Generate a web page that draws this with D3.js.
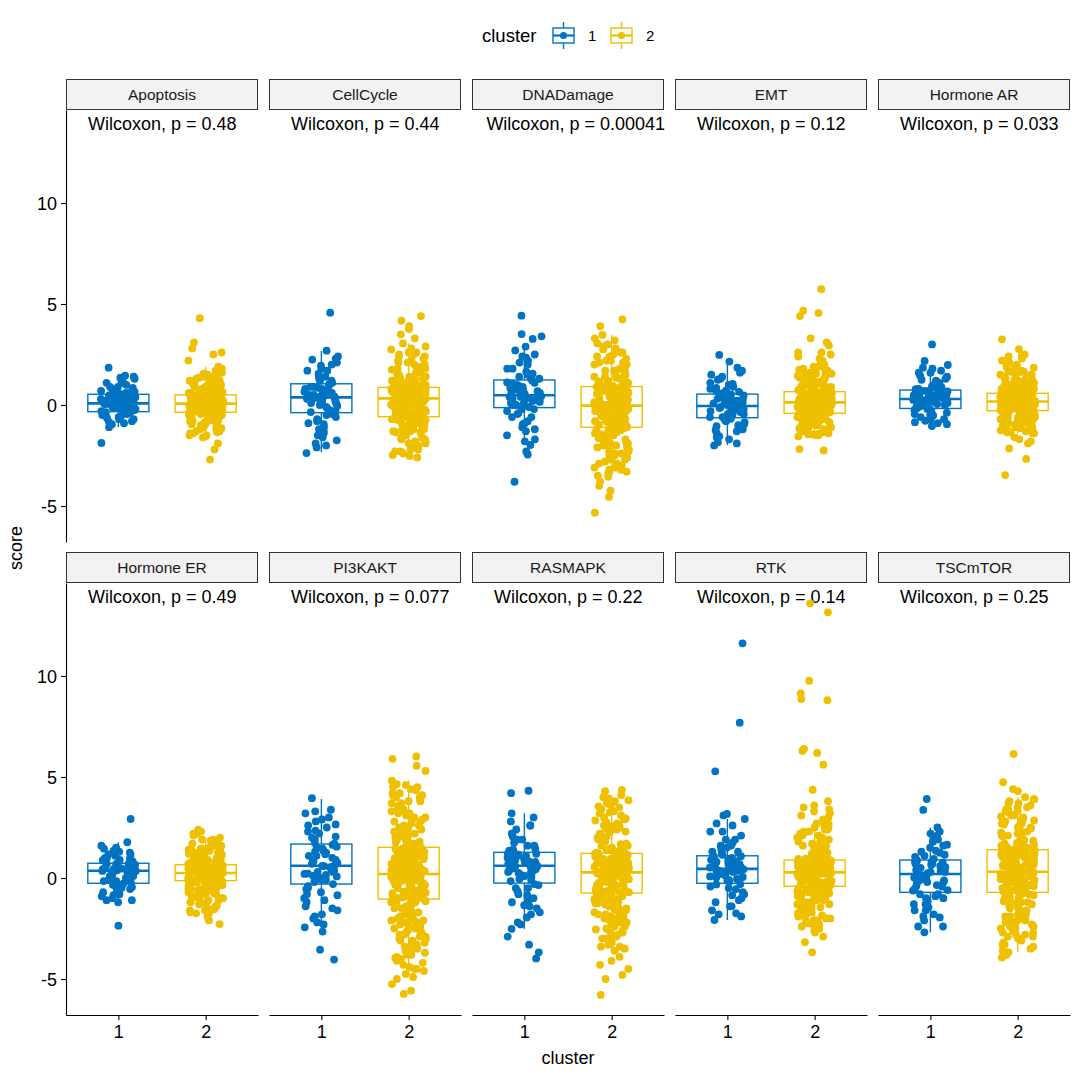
<!DOCTYPE html>
<html><head><meta charset="utf-8">
<script src="https://cdn.jsdelivr.net/npm/d3@7"></script>
<style>body{margin:0;background:#fff}svg{display:block}text{font-family:"Liberation Sans",Arial,sans-serif}</style>
</head><body>
<svg id="c" width="1080" height="1080"></svg>
<script>
const panels = ["Apoptosis","CellCycle","DNADamage","EMT","Hormone AR","Hormone ER","PI3KAKT","RASMAPK","RTK","TSCmTOR"];
const pvalues = ["0.48","0.44","0.00041","0.12","0.033","0.49","0.077","0.22","0.14","0.25"];
const clusters = ["1","2"];
const yTicks = [-5,0,5,10];
// box statistics per panel: [lower whisker, Q1, median, Q3, upper whisker]
const boxStats1 = [
 [-1.1,-0.33,0.08,0.53,1.4],[-2.34,-0.38,0.38,1.05,2.67],[-1.98,-0.13,0.48,1.24,2.89],[-1.98,-0.63,-0.05,0.54,2.15],[-1.04,-0.17,0.3,0.74,1.98],
 [-1.2,-0.26,0.36,0.73,1.77],[-2.44,-0.3,0.61,1.68,3.91],[-2.52,-0.25,0.61,1.27,3.2],[-2.08,-0.26,0.45,1.1,2.92],[-2.69,-0.71,0.2,0.89,2.5]];
const boxStats2 = [
 [-1.6,-0.36,0.07,0.5,1.9],[-2.48,-0.58,0.33,0.87,3.05],[-3.55,-1.1,-0.03,0.91,3.47],[-1.55,-0.41,0.13,0.66,1.95],[-1.4,-0.28,0.17,0.58,1.85],
 [-1.8,-0.13,0.25,0.66,2.0],[-4.75,-1.04,0.2,1.52,4.82],[-3.6,-0.74,0.28,1.22,4.1],[-2.4,-0.41,0.28,0.89,2.8],[-3.68,-0.71,0.31,1.4,4.0]];
// scores, cluster 1
const scores1 = [
 [-1.1,-0.95,-0.85,-0.8,-0.7,-0.65,-0.6,-0.5,-0.45,-0.4,-0.38,-0.35,-0.3,-0.25,-0.2,-0.18,-0.12,-0.1,-0.05,0,0.02,0.05,0.06,0.07,0.1,0.12,0.15,0.2,0.25,0.28,0.3,0.35,0.4,0.45,0.48,0.52,0.55,0.6,0.65,0.7,0.8,0.85,0.9,1.0,1.1,1.2,1.35,1.4,1.85,-1.88],
 [-2.38,-2.1,-1.9,-1.75,-1.6,-1.4,-1.3,-1.1,-0.95,-0.8,-0.6,-0.45,-0.35,-0.25,-0.15,-0.05,0.0,0.08,0.15,0.2,0.25,0.3,0.33,0.36,0.4,0.45,0.5,0.55,0.6,0.65,0.72,0.8,0.85,0.9,0.98,1.03,1.1,1.2,1.3,1.45,1.55,1.7,1.8,1.95,2.1,2.25,2.4,2.69,4.57],
 [-1.98,-1.7,-1.5,-1.3,-1.1,-0.95,-0.8,-0.6,-0.45,-0.3,-0.2,-0.1,0.0,0.08,0.15,0.2,0.26,0.3,0.35,0.4,0.43,0.46,0.5,0.55,0.6,0.68,0.75,0.8,0.88,0.95,1.05,1.12,1.2,1.3,1.4,1.55,1.65,1.8,2.0,2.2,2.35,2.5,2.7,2.89,4.42,3.51,3.27,3.4,-3.8,-2.3,-2.45],
 [-2.0,-1.85,-1.7,-1.55,-1.4,-1.3,-1.2,-1.05,-0.95,-0.85,-0.75,-0.68,-0.6,-0.55,-0.5,-0.45,-0.4,-0.35,-0.3,-0.25,-0.2,-0.15,-0.1,-0.07,-0.02,0.03,0.08,0.12,0.17,0.22,0.27,0.32,0.37,0.42,0.47,0.52,0.58,0.65,0.72,0.8,0.9,1.0,1.1,1.25,1.4,1.6,1.85,2.15,2.48],
 [-1.04,-0.95,-0.85,-0.78,-0.7,-0.6,-0.52,-0.45,-0.38,-0.3,-0.25,-0.2,-0.15,-0.1,-0.05,0,0.05,0.1,0.14,0.18,0.22,0.25,0.27,0.29,0.32,0.36,0.4,0.44,0.48,0.52,0.56,0.6,0.64,0.67,0.7,0.73,0.78,0.85,0.92,1.0,1.1,1.2,1.3,1.45,1.6,1.7,1.85,1.98,3.0,2.18],
 [-1.2,-1.1,-1.0,-0.9,-0.8,-0.7,-0.62,-0.55,-0.48,-0.4,-0.34,-0.28,-0.22,-0.15,-0.08,-0.02,0.05,0.1,0.15,0.2,0.25,0.29,0.32,0.35,0.38,0.41,0.44,0.47,0.5,0.53,0.56,0.59,0.62,0.65,0.68,0.71,0.76,0.82,0.88,0.95,1.02,1.1,1.18,1.26,1.35,1.45,1.6,1.77,2.92,-2.36],
 [-2.44,-2.2,-2.0,-1.8,-1.6,-1.4,-1.2,-1.0,-0.85,-0.7,-0.55,-0.4,-0.2,-0.1,0.0,0.08,0.15,0.22,0.3,0.37,0.43,0.5,0.55,0.59,0.66,0.75,0.82,0.9,1.0,1.1,1.18,1.26,1.35,1.45,1.55,1.64,1.75,1.9,2.05,2.2,2.35,2.5,2.65,2.8,3.0,3.2,3.38,3.95,-4.04,-3.55,-2.65],
 [-2.52,-2.2,-1.95,-1.7,-1.5,-1.35,-1.2,-1.0,-0.85,-0.65,-0.5,-0.35,-0.15,-0.05,0.05,0.15,0.22,0.3,0.37,0.43,0.48,0.53,0.57,0.6,0.65,0.7,0.76,0.82,0.88,0.94,1.0,1.05,1.1,1.15,1.2,1.25,1.35,1.45,1.6,1.75,1.9,2.05,2.2,2.4,2.6,2.8,3.0,3.2,4.32,4.2,-3.98,-3.68,-3.3,-2.9],
 [-2.08,-1.9,-1.75,-1.6,-1.4,-1.2,-1.0,-0.85,-0.7,-0.55,-0.42,-0.32,-0.2,-0.12,-0.05,0.02,0.08,0.14,0.2,0.26,0.31,0.36,0.4,0.43,0.48,0.52,0.57,0.62,0.67,0.72,0.78,0.84,0.9,0.96,1.02,1.08,1.15,1.22,1.3,1.4,1.5,1.6,1.75,1.9,2.1,2.3,2.6,2.92,11.62,7.69,5.28,3.17,3.1],
 [-2.69,-2.4,-2.1,-1.95,-1.8,-1.6,-1.45,-1.3,-1.15,-1.0,-0.9,-0.8,-0.62,-0.52,-0.43,-0.35,-0.27,-0.2,-0.12,-0.05,0.02,0.08,0.13,0.18,0.24,0.3,0.36,0.42,0.48,0.54,0.6,0.65,0.7,0.76,0.81,0.86,0.95,1.05,1.15,1.25,1.35,1.5,1.65,1.8,1.95,2.1,2.3,2.5,3.91,3.37]];
// further scores, cluster 1
const extraScores1 = [
 [-0.9,-0.7,-0.55,-0.45,-0.3,-0.2,-0.1,-0.05,0,0.05,0.1,0.15,0.2,0.25,0.3,0.35,0.4,0.5,0.6,0.7,0.9,1.1,1.3,1.45,-0.15],
 [-2.0,-1.5,-1.2,-0.9,-0.7,-0.5,-0.3,-0.1,0.1,0.2,0.3,0.4,0.45,0.5,0.6,0.7,0.8,0.9,1.0,1.2,1.4,1.7,2.0,2.3,0.35],
 [-1.8,-1.2,-0.9,-0.6,-0.4,-0.2,0,0.1,0.2,0.3,0.4,0.5,0.55,0.6,0.7,0.8,0.9,1.0,1.1,1.3,1.5,1.8,2.1,2.4,0.35],
 [-1.9,-1.6,-1.25,-1.0,-0.8,-0.6,-0.45,-0.3,-0.2,-0.1,0,0.05,0.1,0.2,0.3,0.4,0.5,0.6,0.7,0.85,1.05,1.3,1.5,1.7,-0.15],
 [-0.9,-0.7,-0.5,-0.35,-0.2,-0.1,0,0.1,0.2,0.25,0.3,0.35,0.4,0.45,0.5,0.6,0.7,0.8,0.9,1.05,1.25,1.4,1.6,1.8,0.15],
 [-1.1,-0.85,-0.6,-0.45,-0.3,-0.15,0,0.1,0.2,0.3,0.35,0.4,0.45,0.5,0.55,0.6,0.7,0.8,0.9,1.0,1.15,1.3,1.5,-0.05,0.25],
 [-2.3,-1.9,-1.5,-1.1,-0.8,-0.5,-0.3,-0.1,0.1,0.3,0.5,0.6,0.7,0.9,1.1,1.3,1.5,1.7,2.0,2.3,2.6,2.9,3.3,0.4,0.2],
 [-2.3,-1.8,-1.4,-1.1,-0.8,-0.5,-0.3,-0.1,0.1,0.3,0.45,0.6,0.7,0.8,0.9,1.0,1.1,1.2,1.4,1.6,1.9,2.2,2.6,0.5,0.25],
 [-1.8,-1.4,-1.1,-0.8,-0.5,-0.3,-0.1,0.05,0.2,0.3,0.4,0.5,0.55,0.6,0.7,0.8,0.9,1.0,1.1,1.3,1.6,1.9,2.3,2.7,0.35],
 [-2.4,-1.9,-1.6,-1.3,-1.0,-0.8,-0.6,-0.4,-0.2,0,0.1,0.2,0.3,0.4,0.5,0.6,0.7,0.8,0.9,1.1,1.3,1.6,1.9,2.2,-0.1]];
// scores, cluster 2
const scores2 = [
 [-1.6,-1.55,-1.5,-1.4,-1.35,-1.3,-1.2,-1.15,-1.1,-1.0,-0.95,-0.9,-0.85,-0.8,-0.75,-0.7,-0.65,-0.6,-0.55,-0.5,-0.48,-0.45,-0.42,-0.4,-0.38,
  -0.35,-0.33,-0.3,-0.28,-0.26,-0.24,-0.22,-0.2,-0.18,-0.16,-0.14,-0.12,-0.1,-0.08,-0.06,-0.04,-0.02,0,0.01,0.02,0.03,0.04,0.05,0.06,0.07,
  0.08,0.1,0.12,0.14,0.16,0.18,0.2,0.22,0.24,0.26,0.28,0.3,0.32,0.34,0.36,0.38,0.4,0.41,0.42,0.44,0.45,0.46,0.47,0.48,0.5,
  0.52,0.55,0.6,0.65,0.7,0.75,0.8,0.85,0.9,0.95,1.0,1.05,1.1,1.15,1.2,1.25,1.3,1.35,1.4,1.5,1.55,1.6,1.7,1.8,1.9,
  4.3,3.1,2.8,2.6,2.5,2.2,-2.2,-2.7,-1.9],
 [-2.48,-2.3,-2.2,-2.1,-2.0,-1.9,-1.8,-1.7,-1.6,-1.5,-1.45,-1.35,-1.3,-1.2,-1.15,-1.1,-1.0,-0.95,-0.9,-0.85,-0.8,-0.75,-0.7,-0.65,-0.6,
  -0.56,-0.52,-0.48,-0.44,-0.4,-0.36,-0.32,-0.28,-0.24,-0.2,-0.16,-0.12,-0.08,-0.04,0,0.04,0.08,0.12,0.16,0.2,0.23,0.26,0.28,0.3,0.32,
  0.34,0.36,0.38,0.4,0.42,0.44,0.46,0.48,0.5,0.52,0.54,0.56,0.58,0.6,0.62,0.64,0.66,0.68,0.7,0.72,0.75,0.78,0.8,0.83,0.86,
  0.9,0.95,1.0,1.05,1.1,1.15,1.2,1.3,1.35,1.4,1.5,1.6,1.7,1.8,1.9,2.0,2.1,2.2,2.3,2.4,2.5,2.6,2.75,2.9,3.05,
  4.4,4.17,3.9,3.76,3.5,3.3,-2.52,-2.6],
 [-3.55,-3.4,-3.3,-3.2,-3.1,-3.0,-2.9,-2.8,-2.7,-2.6,-2.5,-2.4,-2.3,-2.2,-2.1,-2.0,-1.9,-1.8,-1.7,-1.6,-1.5,-1.45,-1.35,-1.3,-1.2,-1.15,
  -1.08,-1.04,-1.0,-0.96,-0.92,-0.88,-0.84,-0.8,-0.75,-0.7,-0.65,-0.6,-0.55,-0.5,-0.45,-0.4,-0.35,-0.3,-0.26,-0.22,-0.18,-0.14,-0.1,-0.08,-0.06,-0.04,
  -0.02,0.02,0.06,0.1,0.14,0.18,0.22,0.26,0.3,0.34,0.38,0.42,0.46,0.5,0.54,0.58,0.62,0.66,0.7,0.74,0.77,0.8,0.83,0.86,0.88,0.9,
  0.93,0.97,1.0,1.05,1.1,1.15,1.2,1.3,1.4,1.5,1.6,1.7,1.8,1.9,2.0,2.1,2.2,2.3,2.4,2.5,2.6,2.75,2.9,3.05,3.2,3.47,
  4.24,3.9,-4.24,-4.55,-5.33,-3.8,-4.0],
 [-1.55,-1.5,-1.45,-1.4,-1.35,-1.3,-1.25,-1.2,-1.15,-1.1,-1.05,-1.0,-0.95,-0.9,-0.85,-0.8,-0.75,-0.7,-0.65,-0.6,-0.55,-0.5,-0.47,-0.44,
  -0.4,-0.38,-0.35,-0.32,-0.3,-0.27,-0.24,-0.21,-0.18,-0.15,-0.12,-0.1,-0.08,-0.05,-0.03,0,0.02,0.04,0.06,0.08,0.09,0.1,0.11,0.12,
  0.14,0.16,0.18,0.2,0.22,0.24,0.26,0.28,0.3,0.32,0.34,0.36,0.38,0.4,0.42,0.44,0.46,0.48,0.5,0.53,0.56,0.59,0.62,0.65,
  0.68,0.72,0.76,0.8,0.85,0.9,0.95,1.0,1.05,1.1,1.15,1.2,1.25,1.3,1.35,1.4,1.45,1.5,1.55,1.6,1.7,1.8,1.9,1.95,
  5.73,4.67,4.55,4.4,3.3,3.1,2.95,2.6,2.5,2.4,2.2,-2.18,-2.25],
 [-1.4,-1.35,-1.3,-1.25,-1.2,-1.15,-1.1,-1.05,-1.0,-0.95,-0.9,-0.85,-0.8,-0.75,-0.7,-0.65,-0.6,-0.55,-0.5,-0.46,-0.42,-0.38,-0.34,-0.3,
  -0.27,-0.25,-0.23,-0.21,-0.19,-0.17,-0.15,-0.13,-0.11,-0.09,-0.07,-0.05,-0.03,-0.01,0.01,0.03,0.05,0.07,0.09,0.11,0.12,0.13,0.15,0.16,
  0.18,0.19,0.21,0.23,0.25,0.27,0.29,0.31,0.33,0.35,0.37,0.39,0.41,0.43,0.45,0.47,0.49,0.5,0.51,0.52,0.53,0.54,0.56,0.57,
  0.6,0.64,0.68,0.72,0.76,0.8,0.85,0.9,0.95,1.0,1.05,1.1,1.15,1.2,1.25,1.3,1.35,1.4,1.45,1.5,1.6,1.65,1.75,1.85,
  3.25,2.77,2.45,2.4,2.3,2.1,2.0,-2.15,-2.67,-3.47,-1.6,-1.7],
 [-1.8,-1.7,-1.6,-1.5,-1.4,-1.3,-1.2,-1.1,-1.0,-0.9,-0.85,-0.8,-0.7,-0.65,-0.6,-0.55,-0.5,-0.45,-0.4,-0.35,-0.3,-0.26,-0.22,-0.18,-0.15,
  -0.12,-0.1,-0.08,-0.06,-0.04,-0.02,0,0.02,0.04,0.06,0.08,0.1,0.11,0.12,0.13,0.14,0.15,0.16,0.17,0.18,0.19,0.2,0.21,0.22,0.24,
  0.26,0.28,0.3,0.31,0.33,0.35,0.37,0.38,0.4,0.42,0.43,0.45,0.47,0.48,0.5,0.52,0.53,0.55,0.57,0.58,0.6,0.61,0.62,0.64,0.65,
  0.68,0.72,0.75,0.8,0.84,0.88,0.92,0.96,1.0,1.05,1.1,1.15,1.2,1.25,1.3,1.35,1.4,1.45,1.5,1.55,1.6,1.7,1.8,1.9,2.0,
  2.39,2.3,2.2,-1.91,-2.28,-2.1],
 [-4.75,-4.5,-4.3,-4.1,-3.95,-3.8,-3.7,-3.6,-3.5,-3.4,-3.3,-3.2,-3.1,-3.0,-2.9,-2.8,-2.7,-2.6,-2.5,-2.4,-2.3,-2.2,-2.1,-2.0,-1.9,-1.8,-1.7,-1.6,-1.5,-1.4,-1.3,-1.2,-1.1,
  -1.0,-0.96,-0.92,-0.88,-0.84,-0.8,-0.76,-0.72,-0.68,-0.64,-0.6,-0.56,-0.52,-0.48,-0.44,-0.4,-0.36,-0.32,-0.28,-0.24,-0.2,-0.16,-0.12,-0.08,-0.04,0,0.03,0.06,0.09,0.12,0.14,0.16,0.18,
  0.22,0.26,0.3,0.34,0.38,0.42,0.46,0.5,0.54,0.58,0.62,0.66,0.7,0.74,0.78,0.82,0.86,0.9,0.94,0.98,1.02,1.06,1.1,1.14,1.18,1.22,1.26,1.3,1.34,1.38,1.42,1.46,1.5,
  1.56,1.62,1.7,1.78,1.86,1.94,2.02,2.1,2.2,2.3,2.4,2.5,2.6,2.7,2.8,2.9,3.0,3.1,3.2,3.3,3.4,3.5,3.6,3.7,3.8,3.9,4.0,4.1,4.2,4.35,4.5,4.65,4.82,
  6.02,5.9,5.56,5.3,-5.58,-5.74,-5.25,-5.0,-4.9],
 [-3.6,-3.4,-3.2,-3.0,-2.85,-2.7,-2.55,-2.4,-2.3,-2.2,-2.1,-2.0,-1.9,-1.8,-1.7,-1.6,-1.5,-1.45,-1.4,-1.3,-1.25,-1.2,-1.1,-1.05,-1.0,-0.9,-0.85,-0.8,
  -0.7,-0.66,-0.62,-0.58,-0.54,-0.5,-0.46,-0.42,-0.38,-0.34,-0.3,-0.26,-0.22,-0.18,-0.14,-0.1,-0.06,-0.02,0.02,0.06,0.1,0.13,0.16,0.19,0.21,0.23,0.25,0.27,
  0.3,0.33,0.36,0.39,0.42,0.45,0.48,0.51,0.54,0.57,0.6,0.64,0.68,0.72,0.76,0.8,0.84,0.88,0.92,0.96,1.0,1.03,1.06,1.09,1.12,1.15,1.18,1.2,
  1.26,1.32,1.38,1.45,1.52,1.6,1.68,1.76,1.85,1.95,2.05,2.15,2.25,2.35,2.45,2.55,2.65,2.75,2.85,2.95,3.1,3.25,3.4,3.55,3.7,3.85,3.95,4.1,
  4.36,4.3,-5.79,-5.0,-4.3,-3.9,-4.1],
 [-2.4,-2.3,-2.2,-2.1,-2.0,-1.9,-1.8,-1.7,-1.6,-1.5,-1.4,-1.3,-1.2,-1.1,-1.0,-0.95,-0.9,-0.85,-0.8,-0.75,-0.7,-0.65,-0.6,-0.52,-0.46,
  -0.38,-0.35,-0.32,-0.29,-0.26,-0.23,-0.2,-0.17,-0.14,-0.11,-0.08,-0.05,-0.02,0.01,0.04,0.07,0.1,0.12,0.14,0.16,0.18,0.2,0.22,0.24,0.26,
  0.3,0.32,0.34,0.36,0.38,0.4,0.42,0.44,0.46,0.48,0.5,0.53,0.56,0.59,0.62,0.65,0.68,0.7,0.72,0.74,0.76,0.79,0.82,0.85,0.88,
  0.92,0.96,1.0,1.05,1.1,1.15,1.2,1.25,1.3,1.35,1.4,1.45,1.5,1.6,1.7,1.8,1.9,2.0,2.1,2.2,2.3,2.4,2.5,2.65,2.8,
  13.6,13.15,9.77,9.14,8.86,8.8,6.39,6.3,6.19,5.61,4.37,3.5,3.4,3.3,3.2,-2.52,-2.6,-3.18,-3.68],
 [-3.68,-3.5,-3.3,-3.1,-3.0,-2.9,-2.8,-2.7,-2.6,-2.5,-2.4,-2.3,-2.2,-2.1,-2.0,-1.9,-1.8,-1.7,-1.6,-1.5,-1.4,-1.3,-1.2,-1.15,-1.1,-1.0,-0.95,-0.9,-0.85,-0.8,
  -0.68,-0.64,-0.6,-0.56,-0.52,-0.48,-0.44,-0.4,-0.36,-0.32,-0.28,-0.24,-0.2,-0.16,-0.12,-0.08,-0.04,0,0.03,0.06,0.09,0.12,0.15,0.18,0.2,0.22,0.24,0.26,0.28,0.3,
  0.34,0.38,0.42,0.46,0.5,0.54,0.58,0.62,0.66,0.7,0.74,0.78,0.82,0.86,0.9,0.94,0.98,1.02,1.06,1.1,1.14,1.18,1.22,1.25,1.28,1.31,1.34,1.36,1.38,1.39,
  1.45,1.5,1.56,1.62,1.68,1.74,1.8,1.88,1.96,2.04,2.12,2.2,2.3,2.4,2.5,2.6,2.7,2.8,2.9,3.0,3.1,3.2,3.3,3.4,3.5,3.6,3.7,3.8,3.9,4.0,
  6.14,4.74,4.4,4.3,-3.93,-3.8]];
// further scores, cluster 2
const extraScores2 = [
 [-1.5,-1.3,-1.2,-1.1,-1.0,-0.9,-0.9,-0.8,-0.8,-0.7,-0.7,-0.6,-0.6,-0.6,-0.5,-0.5,-0.5,-0.4,-0.4,-0.4,-0.4,-0.3,-0.3,-0.3,-0.3,-0.3,-0.2,-0.2,-0.2,-0.2,-0.2,-0.1,-0.1,-0.1,-0.1,-0.1,0,0,0,0,0,0,0.1,0.1,0.1,0.1,0.1,0.1,0.2,0.2,0.2,0.2,0.2,0.3,0.3,0.3,0.3,0.3,0.4,0.4,0.4,0.4,0.5,0.5,0.5,0.5,0.6,0.6,0.6,0.7,0.7,0.7,0.8,0.8,0.9,0.9,1.0,1.0,1.1,1.2,1.3,1.4,1.5,1.6,1.7,-1.4,-1.2,-0.95,-0.75,-0.55,-0.45,-0.35,-0.25,-0.15,0.05,0.15,0.25,0.35,0.45,0.55],
 [-2.4,-2.2,-2.0,-1.8,-1.7,-1.6,-1.5,-1.4,-1.3,-1.2,-1.1,-1.0,-1.0,-0.9,-0.9,-0.8,-0.8,-0.7,-0.7,-0.6,-0.6,-0.5,-0.5,-0.4,-0.4,-0.3,-0.3,-0.2,-0.2,-0.1,-0.1,0,0,0.1,0.1,0.2,0.2,0.2,0.3,0.3,0.3,0.4,0.4,0.4,0.5,0.5,0.5,0.6,0.6,0.6,0.7,0.7,0.7,0.8,0.8,0.9,0.9,1.0,1.0,1.1,1.1,1.2,1.3,1.4,1.5,1.6,1.7,1.8,1.9,2.0,2.2,2.4,2.6,2.8,-2.3,-1.9,-1.65,-1.35,-1.15,-0.95,-0.75,-0.55,-0.35,-0.15,0.05,0.15,0.25,0.35,0.45,0.55,0.65,0.75,0.85,1.25,1.45,1.75,2.1,2.5],
 [-3.5,-3.3,-3.1,-2.9,-2.7,-2.5,-2.3,-2.2,-2.0,-1.9,-1.8,-1.7,-1.6,-1.5,-1.4,-1.3,-1.3,-1.2,-1.2,-1.1,-1.1,-1.0,-1.0,-0.9,-0.9,-0.8,-0.8,-0.7,-0.7,-0.6,-0.6,-0.5,-0.5,-0.4,-0.4,-0.3,-0.3,-0.2,-0.2,-0.1,-0.1,0,0,0.1,0.1,0.2,0.2,0.3,0.3,0.4,0.4,0.5,0.5,0.6,0.6,0.7,0.7,0.8,0.8,0.9,0.9,1.0,1.1,1.2,1.3,1.4,1.5,1.6,1.8,2.0,2.2,2.4,2.6,2.8,3.0,3.3,-3.2,-2.8,-2.4,-2.1,-1.85,-1.65,-1.45,-1.25,-1.05,-0.85,-0.65,-0.45,-0.25,-0.05,0.15,0.35,0.55,0.75,0.95,1.15,1.35,1.7,2.1],
 [-1.5,-1.4,-1.3,-1.2,-1.1,-1.0,-1.0,-0.9,-0.9,-0.8,-0.8,-0.7,-0.7,-0.6,-0.6,-0.5,-0.5,-0.5,-0.4,-0.4,-0.4,-0.3,-0.3,-0.3,-0.2,-0.2,-0.2,-0.2,-0.1,-0.1,-0.1,-0.1,0,0,0,0,0.1,0.1,0.1,0.1,0.2,0.2,0.2,0.2,0.3,0.3,0.3,0.3,0.4,0.4,0.4,0.5,0.5,0.5,0.6,0.6,0.6,0.7,0.7,0.8,0.8,0.9,0.9,1.0,1.0,1.1,1.2,1.3,1.4,1.5,1.6,1.7,1.8,1.9,2.0,2.1,-1.45,-1.25,-1.05,-0.85,-0.65,-0.45,-0.25,-0.05,0.05,0.15,0.25,0.35,0.45,0.55,0.75,0.95,1.15,1.35,1.55,1.75,2.3,2.6],
 [-1.4,-1.3,-1.2,-1.1,-1.0,-1.0,-0.9,-0.9,-0.8,-0.8,-0.7,-0.7,-0.6,-0.6,-0.5,-0.5,-0.4,-0.4,-0.4,-0.3,-0.3,-0.3,-0.2,-0.2,-0.2,-0.2,-0.1,-0.1,-0.1,-0.1,0,0,0,0,0.1,0.1,0.1,0.1,0.2,0.2,0.2,0.2,0.3,0.3,0.3,0.3,0.4,0.4,0.4,0.5,0.5,0.5,0.6,0.6,0.7,0.7,0.8,0.8,0.9,0.9,1.0,1.1,1.2,1.3,1.4,1.5,1.6,1.7,1.8,1.9,-1.35,-1.15,-0.95,-0.75,-0.55,-0.35,-0.15,-0.05,0.05,0.15,0.25,0.35,0.45,0.55,0.65,0.85,1.05,1.25,1.45,1.65,2.2,2.5,-1.8,-1.9],
 [-1.7,-1.6,-1.5,-1.4,-1.3,-1.2,-1.1,-1.0,-0.9,-0.8,-0.7,-0.6,-0.5,-0.5,-0.4,-0.4,-0.3,-0.3,-0.2,-0.2,-0.1,-0.1,-0.1,0,0,0,0,0.1,0.1,0.1,0.1,0.2,0.2,0.2,0.2,0.3,0.3,0.3,0.3,0.4,0.4,0.4,0.4,0.5,0.5,0.5,0.6,0.6,0.6,0.7,0.7,0.8,0.8,0.9,0.9,1.0,1.0,1.1,1.2,1.3,1.4,1.5,1.6,1.7,1.8,1.9,2.1,2.2,-1.75,-1.55,-1.35,-1.15,-0.95,-0.75,-0.55,-0.35,-0.25,-0.15,-0.05,0.05,0.15,0.25,0.35,0.45,0.55,0.65,0.75,0.85,1.05,1.25,1.45,1.65,1.85],
 [-4.6,-4.4,-4.2,-4.0,-3.8,-3.6,-3.4,-3.2,-3.0,-2.8,-2.6,-2.4,-2.2,-2.0,-1.8,-1.6,-1.4,-1.3,-1.2,-1.1,-1.0,-0.9,-0.8,-0.7,-0.6,-0.5,-0.4,-0.3,-0.2,-0.1,0,0.1,0.2,0.3,0.4,0.5,0.6,0.7,0.8,0.9,1.0,1.1,1.2,1.3,1.4,1.5,1.6,1.8,2.0,2.2,2.4,2.6,2.8,3.0,3.2,3.4,3.6,3.8,4.0,4.2,4.4,4.6,-4.5,-3.9,-3.5,-3.1,-2.7,-2.3,-1.9,-1.5,-1.15,-0.95,-0.75,-0.55,-0.35,-0.15,0.05,0.25,0.45,0.65,0.85,1.05,1.25,1.45,1.7,1.9,2.1,2.5,2.9,3.3,3.7,4.1,4.5,-2.9,-2.5,-2.1,-1.7,-0.25,0.35,0.75,1.15,-0.65],
 [-3.5,-3.3,-3.1,-2.9,-2.7,-2.5,-2.3,-2.1,-1.9,-1.7,-1.5,-1.4,-1.3,-1.2,-1.1,-1.0,-0.9,-0.8,-0.7,-0.6,-0.5,-0.4,-0.3,-0.2,-0.1,0,0.1,0.2,0.3,0.4,0.5,0.6,0.7,0.8,0.9,1.0,1.1,1.2,1.3,1.4,1.5,1.7,1.9,2.1,2.3,2.5,2.7,2.9,3.2,3.5,3.8,4.0,-3.4,-2.8,-2.4,-2.0,-1.6,-1.25,-1.05,-0.85,-0.65,-0.45,-0.25,-0.05,0.15,0.25,0.35,0.45,0.55,0.65,0.75,0.85,0.95,1.05,1.15,1.35,1.6,1.8,2.0,2.2,2.4,2.6,3.0,3.3,-0.95,-0.55,-0.15,0.05,0.4,0.7,1.0,-1.8,-2.2,-2.6,-3.0,3.6,-4.5,-4.8],
 [-2.35,-2.25,-2.1,-1.95,-1.85,-1.75,-1.65,-1.5,-1.4,-1.3,-1.2,-1.1,-1.0,-0.9,-0.8,-0.7,-0.6,-0.5,-0.5,-0.4,-0.4,-0.3,-0.3,-0.2,-0.2,-0.1,-0.1,0,0,0.1,0.1,0.2,0.2,0.2,0.3,0.3,0.3,0.4,0.4,0.4,0.5,0.5,0.5,0.6,0.6,0.7,0.7,0.8,0.8,0.9,0.9,1.0,1.1,1.2,1.3,1.4,1.5,1.6,1.7,1.8,1.9,2.0,2.2,2.4,2.6,2.7,-2.0,-1.6,-1.25,-1.05,-0.85,-0.65,-0.45,-0.25,-0.05,0.05,0.15,0.25,0.35,0.45,0.55,0.65,0.75,0.85,0.95,1.15,1.35,1.55,1.75,2.1,2.3,2.5,3.0,-2.7,-2.9,2.9,3.1,3.6,3.8,-1.45],
 [-3.6,-3.4,-3.2,-3.0,-2.8,-2.6,-2.4,-2.2,-2.0,-1.8,-1.6,-1.4,-1.3,-1.2,-1.1,-1.0,-0.9,-0.8,-0.7,-0.6,-0.5,-0.4,-0.3,-0.2,-0.1,0,0.1,0.2,0.3,0.4,0.5,0.6,0.7,0.8,0.9,1.0,1.1,1.2,1.3,1.4,1.5,1.6,1.7,1.9,2.1,2.3,2.5,2.7,2.9,3.1,3.3,3.5,3.7,3.9,-3.3,-2.9,-2.5,-2.1,-1.7,-1.5,-1.25,-1.05,-0.85,-0.65,-0.45,-0.25,-0.05,0.05,0.15,0.25,0.35,0.45,0.55,0.65,0.75,0.85,0.95,1.05,1.15,1.25,1.35,1.45,1.65,1.85,2.05,2.25,2.45,2.65,2.85,3.05,-0.55,-0.35,-0.15,0.6,0.8,1.0,-1.9,-2.3,-2.7,3.4]];

const colors = {"1":"#0073C2","2":"#EFC000"};
const FONT = '"Liberation Sans", Arial, sans-serif';

const svg = d3.select("#c");
const ncol = 5, panelW = 192, colStep = 203, left0 = 66;
const rowTop = [79, 552], stripH = 31, plotH = 432;

const x = d3.scalePoint().domain(clusters).range([0, panelW]).padding(0.6);
const step = x.step();
const y = d3.scaleLinear().domain([-6.782, 14.604]).range([plotH, 0]);

// deterministic horizontal jitter in [-1, 1] (position only, not data)
function jit(i, seed) {
  const h = Math.sin((i + 1) * 12.9898 + seed * 78.233) * 43758.5453;
  return (h - Math.floor(h)) * 2 - 1;
}

panels.forEach((name, p) => {
  const col = p % ncol, row = Math.floor(p / ncol);
  const px = left0 + col * colStep, sy = rowTop[row], py = sy + stripH;
  // strip
  svg.append("rect").attr("x", px + 0.5).attr("y", sy + 0.5).attr("width", panelW - 1).attr("height", stripH - 1)
    .attr("fill", "#F2F2F2").attr("stroke", "#333").attr("stroke-width", 1);
  svg.append("text").attr("x", px + panelW / 2).attr("y", sy + stripH / 2 + 5.5).attr("text-anchor", "middle")
    .attr("font-size", 15.5).attr("fill", "#1A1A1A").text(name);
  const g = svg.append("g").attr("transform", `translate(${px},${py})`);
  // label
  const lab = g.append("text").attr("y", 20).attr("font-size", 18).attr("fill", "#000")
    .text("Wilcoxon, p = " + pvalues[p]);
  const tw = lab.node().getComputedTextLength();
  lab.attr("x", Math.min(22, panelW - tw + 1));
  // boxes
  [boxStats1[p], boxStats2[p]].forEach((s, k) => {
    const c = clusters[k], cx = x(c), col_ = colors[c], bw = 0.7 * step;
    const bg = g.append("g").attr("stroke", col_).attr("fill", "none");
    bg.append("line").attr("x1", cx).attr("x2", cx).attr("y1", y(s[4])).attr("y2", y(s[3])).attr("stroke-width", 1.4);
    bg.append("line").attr("x1", cx).attr("x2", cx).attr("y1", y(s[1])).attr("y2", y(s[0])).attr("stroke-width", 1.4);
    bg.append("rect").attr("x", cx - bw / 2).attr("y", y(s[3])).attr("width", bw).attr("height", y(s[1]) - y(s[3]))
      .attr("fill", "#fff").attr("stroke-width", 1.4);
    bg.append("line").attr("x1", cx - bw / 2).attr("x2", cx + bw / 2).attr("y1", y(s[2])).attr("y2", y(s[2])).attr("stroke-width", 2.6);
  });
  // jittered points
  [scores1[p].concat(extraScores1[p]), scores2[p].concat(extraScores2[p])].forEach((vals, k) => {
    const c = clusters[k], cx = x(c), seed = p * 1.7 + k * 0.9 + 0.3;
    g.append("g").selectAll("circle").data(vals).join("circle")
      .attr("cx", (d, i) => cx + jit(i, seed) * 0.2 * step)
      .attr("cy", d => y(d)).attr("r", 3.9).attr("fill", colors[c]);
  });
  // y axis (first column)
  if (col === 0) {
    const ax = g.append("g").call(d3.axisLeft(y).tickValues(yTicks).tickFormat(d => String(d)).tickSize(5).tickSizeOuter(0).tickPadding(4));
    ax.select(".domain").attr("stroke", "#000").attr("stroke-width", 1.1);
    ax.selectAll(".tick line").attr("stroke", "#000").attr("stroke-width", 1.1);
    ax.selectAll("text").attr("font-size", 18).attr("font-family", FONT).attr("fill", "#000").attr("dy", "0.36em");
  }
  // x axis (bottom row)
  if (row === 1) {
    const ax = g.append("g").attr("transform", `translate(0,${plotH})`)
      .call(d3.axisBottom(x).tickSize(5).tickSizeOuter(0).tickPadding(5));
    ax.select(".domain").attr("stroke", "#000").attr("stroke-width", 1.1);
    ax.selectAll(".tick line").attr("stroke", "#000").attr("stroke-width", 1.1);
    ax.selectAll("text").attr("font-size", 18).attr("font-family", FONT).attr("fill", "#000");
  }
});

// axis titles
svg.append("text").attr("x", 568).attr("y", 1064).attr("text-anchor", "middle").attr("font-size", 18).text("cluster");
svg.append("text").attr("transform", "translate(22,548) rotate(-90)").attr("text-anchor", "middle").attr("font-size", 18).text("score");

// legend
const lg = svg.append("g");
lg.append("text").attr("x", 482).attr("y", 42).attr("font-size", 18.5).text("cluster");
clusters.forEach((c, k) => {
  const cx = 563.5 + k * 58, cy = 35;
  const kg = lg.append("g").attr("stroke", colors[c]).attr("fill", "none").attr("stroke-width", 1.4);
  kg.append("line").attr("x1", cx).attr("x2", cx).attr("y1", cy - 13).attr("y2", cy + 14);
  kg.append("rect").attr("x", cx - 10.5).attr("y", cy - 7).attr("width", 21).attr("height", 15).attr("fill", "#fff");
  kg.append("line").attr("x1", cx - 10.5).attr("x2", cx + 10.5).attr("y1", cy + 0.5).attr("y2", cy + 0.5).attr("stroke-width", 2.2);
  lg.append("circle").attr("cx", cx).attr("cy", cy + 0.5).attr("r", 3.6).attr("fill", colors[c]);
  lg.append("text").attr("x", cx + 24.5).attr("y", cy + 5.5).attr("font-size", 15).text(c);
});
</script>
</body></html>
